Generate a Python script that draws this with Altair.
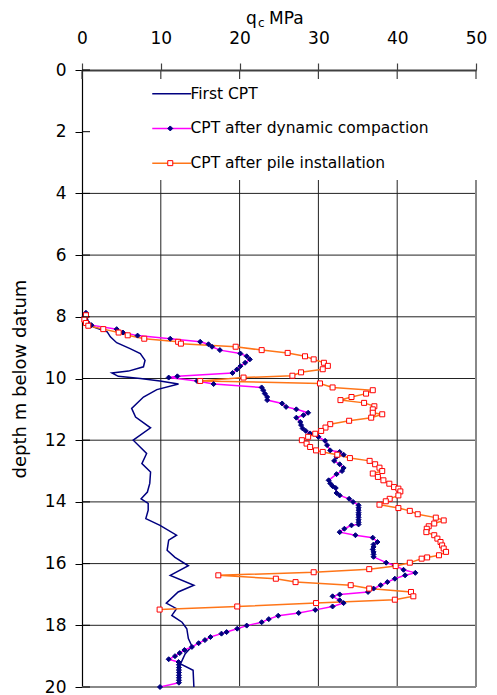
import altair as alt
import pandas as pd

FONT = "DejaVu Sans"
W, H = 394, 617

series_names = ["First CPT", "CPT after dynamic compaction", "CPT after pile installation"]
line_colors = ["#000080", "#FF00FF", "#FF7518"]

first_q = [0.4, 0.84, 1.5, 3.2, 3.6, 4.4, 6.1, 7.4, 8.0, 7.8,
           5.9, 3.8, 4.6, 7.4, 9.9, 12.25, 9.5, 7.8, 6.3, 6.8,
           8.7, 6.5, 8.2, 7.6, 8.7, 8.6, 8.3, 7.5, 8.4, 8.4,
           8.1, 9.9, 12.0, 11.0, 10.8, 11.8, 13.5, 11.2, 14.2, 12.2,
           10.7, 12.0, 11.4, 12.7, 13.3, 13.5, 13.95, 13.1, 12.5, 14.1, 14.2]
first_d = [7.9, 8.16, 8.33, 8.49, 8.65, 8.84, 9.03, 9.19, 9.41, 9.62,
           9.76, 9.82, 9.93, 10.0, 10.08, 10.18, 10.36, 10.6, 10.97, 11.25,
           11.6, 12.0, 12.43, 12.76, 13.03, 13.4, 13.68, 13.9, 14.05, 14.27,
           14.54, 14.76, 15.08, 15.24, 15.57, 15.8, 16.07, 16.38, 16.7, 16.92,
           17.28, 17.46, 17.68, 17.9, 18.11, 18.43, 18.68, 18.92, 19.25, 19.46, 20.0]

dyn_q = [0.5, 0.3, 0.6, 1.2, 4.4, 5.2, 7.05, 11.2, 15.0, 16.05,
         16.5, 17.5, 20.1, 20.9, 21.3, 20.7, 20.1, 19.65, 19.1, 12.1,
         11.0, 14.6, 16.7, 22.8, 23.0, 23.2, 23.5, 23.5, 25.4, 25.9,
         27.2, 28.7, 28.1, 27.2, 27.7, 27.8, 28.0, 28.4, 28.95, 30.0,
         30.85, 31.1, 31.5, 32.7, 33.2, 32.3, 32.0, 32.7, 33.2, 33.0,
         32.3, 31.3, 31.5, 31.8, 32.2, 32.3, 32.7, 33.9, 34.4, 35.1,
         35.1, 35.1, 35.1, 35.1, 35.1, 35.1, 35.1, 35.1, 34.2, 33.3,
         32.7, 34.7, 36.9, 37.5, 37.0, 37.0, 36.9, 37.0, 37.0, 37.0,
         38.6, 39.7, 40.8, 42.3, 41.0, 39.7, 38.75, 37.9, 37.0, 36.3,
         32.7, 31.8, 32.7, 33.2, 31.8, 29.6, 27.5, 24.9, 23.7, 22.8,
         20.9, 19.7, 18.35, 17.7, 16.3, 15.6, 14.8, 13.95, 13.0, 12.4,
         11.8, 11.0, 12.25, 12.3, 12.3, 12.3, 12.3, 12.3, 12.3, 12.3,
         12.3, 9.9]
dyn_d = [7.87, 8.0, 8.15, 8.27, 8.4, 8.51, 8.61, 8.71, 8.81, 8.89,
         8.97, 9.08, 9.19, 9.28, 9.38, 9.49, 9.6, 9.71, 9.82, 9.93,
         9.97, 10.08, 10.18, 10.29, 10.38, 10.49, 10.6, 10.7, 10.81, 10.92,
         11.0, 11.11, 11.19, 11.27, 11.41, 11.51, 11.62, 11.7, 11.78, 11.89,
         12.02, 12.16, 12.33, 12.38, 12.47, 12.54, 12.67, 12.78, 12.9, 13.0,
         13.1, 13.3, 13.4, 13.49, 13.55, 13.71, 13.79, 13.9, 14.0, 14.11,
         14.19, 14.27, 14.35, 14.42, 14.5, 14.58, 14.66, 14.73, 14.76, 14.87,
         14.98, 15.08, 15.16, 15.3, 15.38, 15.46, 15.54, 15.62, 15.7, 15.78,
         15.97, 16.06, 16.2, 16.3, 16.38, 16.49, 16.6, 16.7, 16.81, 16.92,
         17.0, 17.06, 17.19, 17.28, 17.39, 17.5, 17.6, 17.69, 17.8, 17.9,
         18.01, 18.11, 18.22, 18.27, 18.38, 18.48, 18.58, 18.7, 18.8, 18.9,
         19.0, 19.1, 19.19, 19.28, 19.37, 19.45, 19.53, 19.62, 19.7, 19.78,
         19.86, 20.0]

pile_q = [0.5, 0.3, 0.5, 0.8, 2.7, 4.65, 5.8, 7.9, 12.2, 12.55,
          19.5, 22.8, 26.1, 28.3, 29.4, 30.7, 31.2, 30.55, 27.8, 26.7,
          20.5, 15.0, 30.2, 31.8, 36.9, 36.05, 34.2, 32.8, 35.8, 37.1,
          36.9, 36.9, 38.1, 36.7, 33.9, 31.5, 30.9, 30.35, 29.6, 28.7,
          27.9, 28.5, 28.95, 29.7, 30.55, 32.4, 34.0, 36.5, 37.2, 37.75,
          38.1, 36.9, 37.55, 38.25, 39.0, 39.6, 40.15, 40.4, 40.15, 39.05,
          38.55, 37.75, 40.15, 41.6, 42.6, 44.9, 45.9, 44.7, 44.0, 43.75,
          43.7, 44.7, 45.1, 45.5, 45.7, 45.9, 46.2, 45.3, 43.8, 43.1,
          41.6, 39.8, 36.45, 29.4, 17.3, 24.6, 27.1, 34.1, 36.45, 41.75,
          42.05, 39.7, 29.7, 19.7, 9.85]
pile_d = [7.95, 8.09, 8.2, 8.29, 8.4, 8.51, 8.6, 8.71, 8.81, 8.87,
          8.97, 9.08, 9.17, 9.28, 9.38, 9.49, 9.59, 9.7, 9.8, 9.91,
          9.97, 10.08, 10.16, 10.29, 10.38, 10.49, 10.6, 10.7, 10.79, 10.9,
          11.0, 11.11, 11.16, 11.27, 11.37, 11.48, 11.59, 11.7, 11.79, 11.89,
          12.0, 12.11, 12.22, 12.33, 12.38, 12.47, 12.58, 12.67, 12.78, 12.89,
          13.0, 13.08, 13.19, 13.3, 13.41, 13.52, 13.57, 13.66, 13.79, 13.9,
          13.98, 14.09, 14.2, 14.29, 14.4, 14.51, 14.6, 14.7, 14.79, 14.87,
          14.98, 15.08, 15.19, 15.3, 15.41, 15.51, 15.62, 15.73, 15.8, 15.84,
          15.97, 16.08, 16.18, 16.28, 16.38, 16.49, 16.6, 16.7, 16.81, 16.92,
          17.06, 17.17, 17.28, 17.39, 17.49]

x_ticks = [0, 10, 20, 30, 40, 50]
y_ticks = [0, 2, 4, 6, 8, 10, 12, 14, 16, 18, 20]
h_grid = [4, 6, 8, 10, 12, 14, 16, 18]
v_grid = [10, 20, 30, 40]

rows = []
for name, qs, ds in zip(series_names, [first_q, dyn_q, pile_q], [first_d, dyn_d, pile_d]):
    for i, (q, d) in enumerate(zip(qs, ds)):
        rows.append({"series": name, "q": q, "d": d, "idx": i})
df = pd.DataFrame(rows)
df_pts = df[df["series"] != series_names[0]]

x_enc = alt.X("q:Q", scale=alt.Scale(domain=[0, 50], nice=False, zero=False),
              axis=alt.Axis(orient="top", values=x_ticks, grid=False, title=None,
                            labelFontSize=17, labelFont=FONT, labelColor="black",
                            labelPadding=16, tickSize=7, tickColor="#404040", tickWidth=1.2,
                            domainColor="#404040", domainWidth=1.8,
                            labelFlush=False, labelOverlap=False))
y_enc = alt.Y("d:Q", scale=alt.Scale(domain=[0, 20], reverse=True, nice=False, zero=False),
              axis=alt.Axis(values=y_ticks, grid=False, title="depth m below datum",
                            titleFont=FONT, titleFontSize=18, titleFontWeight="normal",
                            titleColor="black", titlePadding=15,
                            labelFontSize=17, labelFont=FONT, labelColor="black",
                            labelPadding=9, tickSize=7, tickColor="black", tickWidth=1,
                            domainColor="black", domainWidth=1.2,
                            labelFlush=False, labelOverlap=False))

hgrid = alt.Chart(pd.DataFrame({"d": h_grid})).mark_rule(color="#222222", strokeWidth=1).encode(
    y=y_enc, x=alt.value(0), x2=alt.value(W))
vgrid = alt.Chart(pd.DataFrame({"q": v_grid})).mark_rule(color="#222222", strokeWidth=1).encode(
    x=x_enc, y=alt.value(110), y2=alt.value(H))
rborder = alt.Chart(pd.DataFrame({"q": [50]})).mark_rule(color="#888888", strokeWidth=2).encode(
    x=x_enc, y=alt.value(110), y2=alt.value(H))
bborder = alt.Chart(pd.DataFrame({"d": [20]})).mark_rule(color="#888888", strokeWidth=2).encode(
    y=y_enc, x=alt.value(0), x2=alt.value(W))

leg1 = alt.Legend(orient="none", legendX=82, legendY=16, title=None,
                  symbolType="M-3,0H3", symbolSize=169, symbolStrokeWidth=1.5,
                  labelFontSize=15.5, labelFont=FONT, labelColor="black", labelLimit=400,
                  labelOffset=11, rowPadding=17.7, padding=0, symbolOpacity=1)
leg2 = alt.Legend(orient="none", legendX=80.5, legendY=16, title=None,
                  symbolSize=25, symbolStrokeWidth=1,
                  labelFontSize=15.5, labelFont=FONT, labelExpr="''",
                  rowPadding=17.7, padding=0, symbolOpacity=1)

lines = alt.Chart(df).mark_line(strokeWidth=1.5).encode(
    x=x_enc, y=y_enc,
    color=alt.Color("series:N", sort=series_names, scale=alt.Scale(range=line_colors), legend=leg1),
    order="idx:Q")

pts = alt.Chart(df_pts).mark_point(filled=True, opacity=1, size=25, strokeWidth=1).encode(
    x=x_enc, y=y_enc,
    shape=alt.Shape("series:N", scale=alt.Scale(domain=series_names, range=["circle", "diamond", "square"]), legend=leg2),
    fill=alt.Fill("series:N", scale=alt.Scale(domain=series_names, range=["transparent", "#000080", "#FFFFFF"]), legend=leg2),
    stroke=alt.Stroke("series:N", scale=alt.Scale(domain=series_names, range=["transparent", "#000080", "#FF0000"]), legend=leg2))

xt = alt.Chart(pd.DataFrame({"q": x_ticks})).mark_rule(color="#404040", strokeWidth=1.2).encode(
    x=x_enc, y=alt.value(0), y2=alt.value(9))
yt = alt.Chart(pd.DataFrame({"d": y_ticks})).mark_rule(color="black", strokeWidth=1).encode(
    y=y_enc, x=alt.value(0), x2=alt.value(8))


def txt(s, x, y, fs):
    return alt.Chart(pd.DataFrame({"t": [s]})).mark_text(
        align="left", baseline="alphabetic", font=FONT, fontSize=fs, color="black").encode(
        text="t:N", x=alt.value(x), y=alt.value(y))


title_q = txt("q", 164, -46, 17)
title_c = txt("c", 176, -43, 12)
title_m = txt("MPa", 187, -46, 17)

chart = alt.layer(hgrid, vgrid, rborder, bborder, lines, pts, xt, yt, title_q, title_c, title_m).properties(
    width=W, height=H,
    autosize=alt.AutoSizeParams(type="none"),
    padding={"left": 74, "top": 62, "right": 13, "bottom": 8},
    background="white",
).configure_view(stroke=None)

chart.save("out.html", embed_options={"renderer": "svg", "actions": False})
